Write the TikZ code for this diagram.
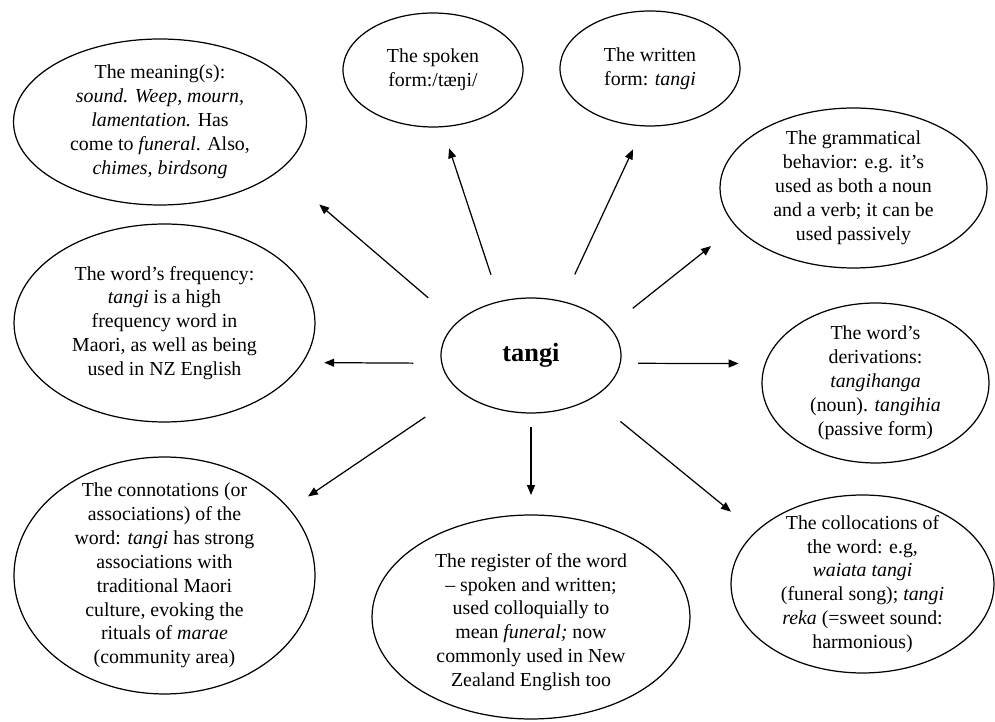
\documentclass[tikz,border=0pt]{standalone}
\usepackage{fontspec}
\setmainfont{Liberation Serif}
\usetikzlibrary{shapes.geometric,arrows.meta}

\begin{document}
\begin{tikzpicture}[x=0.02cm,y=-0.02cm,->,>={Triangle[length=0.2cm,width=0.16cm]},line width=0.7pt]
\tikzstyle{bubble}=[ellipse,draw=black,line width=0.7pt,inner sep=0pt,outer sep=0pt]
\tikzstyle{txt}=[align=center,inner sep=0pt,font=\fontsize{11.3}{13.6}\selectfont]
\useasboundingbox (0,0) rectangle (995,722);
\node[bubble,minimum width=3.6cm,minimum height=2.3cm,font=\fontsize{15}{18}\selectfont\bfseries] (tangi) at (531,355.5) {tangi};
\node[bubble,minimum width=5.86cm,minimum height=3.32cm,label={[txt]center:{The meaning(s):\\ \textit{sound. Weep, mourn,}\\ \textit{lamentation.} Has\\ come to \textit{funeral}. Also,\\ \textit{chimes, birdsong}}}] (meaning) at (160,122) {};
\node[bubble,minimum width=3.6cm,minimum height=2.28cm,label={[txt]center:{The spoken\\ form:/tæŋi/}}] (spoken) at (433,70) {};
\node[bubble,minimum width=3.6cm,minimum height=2.3cm,label={[txt]center:{The written\\ form: \textit{tangi}}}] (written) at (650,68.5) {};
\node[bubble,minimum width=5.34cm,minimum height=3.2cm,label={[txt]center:{The grammatical\\ behavior: e.g. it’s\\ used as both a noun\\ and a verb; it can be\\ used passively}}] (grammar) at (853.5,188) {};
\node[bubble,minimum width=6.02cm,minimum height=3.96cm,label={[txt]center:{The word’s frequency:\\ \textit{tangi} is a high\\ frequency word in\\ Maori, as well as being\\ used in NZ English}}] (freq) at (164.5,323) {};
\node[bubble,minimum width=4.54cm,minimum height=3.2cm,label={[txt]center:{The word’s\\ derivations:\\ \textit{tangihanga}\\ (noun). \textit{tangihia}\\ (passive form)}}] (deriv) at (875.5,383) {};
\node[bubble,minimum width=6.02cm,minimum height=4.74cm,label={[txt]center:{The connotations (or\\ associations) of the\\ word: \textit{tangi} has strong\\ associations with\\ traditional Maori\\ culture, evoking the\\ rituals of \textit{marae}\\ (community area)}}] (connot) at (164.5,575.5) {};
\node[bubble,minimum width=6.36cm,minimum height=4.08cm,label={[txt,yshift=-0.1cm]center:{The register of the word\\ – spoken and written;\\ used colloquially to\\ mean \textit{funeral;} now\\ commonly used in New\\ Zealand English too}}] (register) at (531,617) {};
\node[bubble,minimum width=5.26cm,minimum height=3.56cm,label={[txt]center:{The collocations of\\ the word: e.g,\\ \textit{waiata tangi}\\ (funeral song); \textit{tangi}\\ \textit{reka} (=sweet sound:\\ harmonious)}}] (colloc) at (862.5,584) {};
\path (tangi.156.2) edge[shorten <=0.762cm,shorten >=1.054cm] (meaning.-22.2)
      (tangi.120.9) edge[shorten <=0.564cm,shorten >=0.454cm] (spoken.-81.8)
      (tangi.60.7) edge[shorten <=0.598cm,shorten >=0.518cm] (written.-96.7)
      (tangi.20.4) edge[shorten <=0.603cm,shorten >=0.642cm] (grammar.-162.7)
      (tangi.-175.2) edge[shorten <=0.57cm,shorten >=0.436cm] (freq.-16.2)
      (tangi.-5.8) edge[shorten <=0.362cm,shorten >=0.536cm] (deriv.170.5)
      (tangi.-152) edge[shorten <=0.884cm,shorten >=0.454cm] (connot.28.9)
      (tangi.south) edge[shorten <=0.28cm,shorten >=0.4cm] (register.north)
      (tangi.-35.4) edge[shorten <=0.744cm,shorten >=0.642cm] (colloc.154);
\end{tikzpicture}
\end{document}
